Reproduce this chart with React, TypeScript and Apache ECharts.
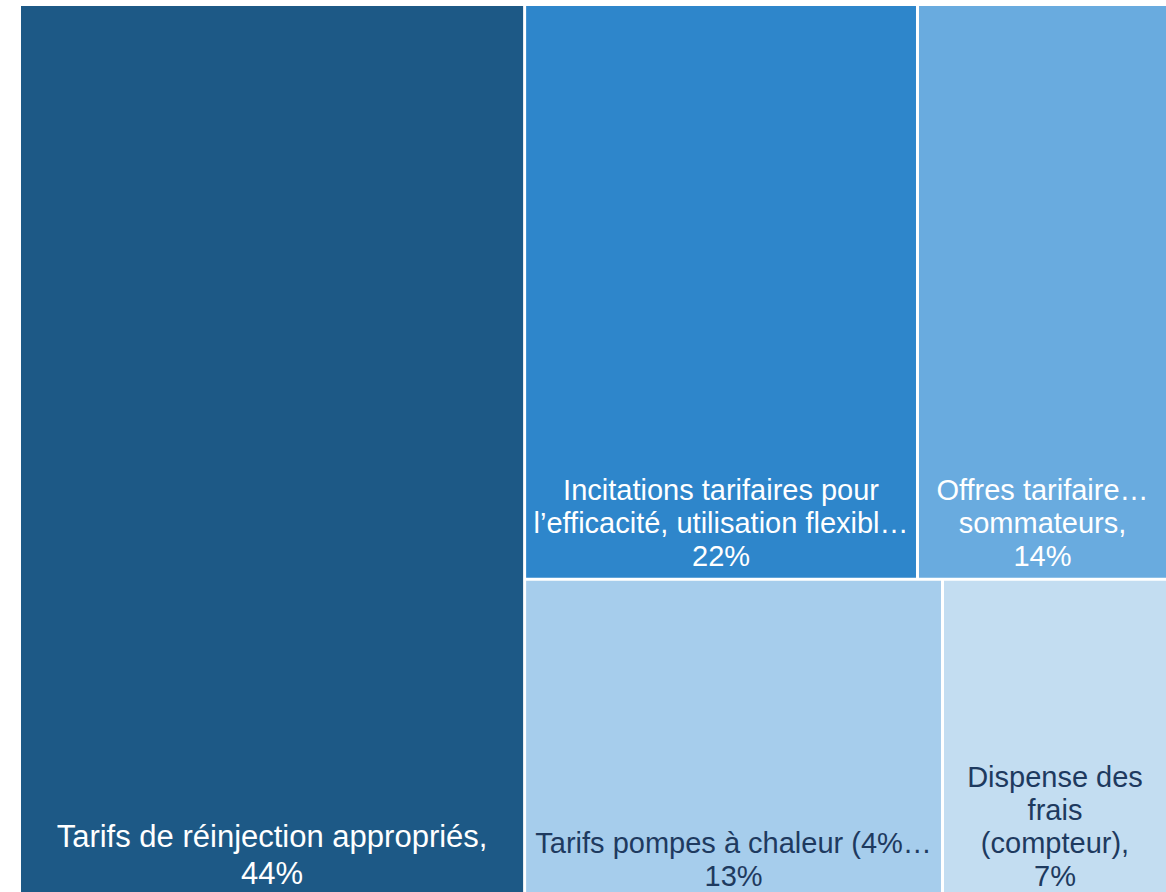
import React, { useEffect, useRef } from "react";
import * as echarts from "echarts";

const categories = [
  "Tarifs de réinjection appropriés,",
  "Incitations tarifaires pour\nl’efficacité, utilisation flexibl…",
  "Offres tarifaire…\nsommateurs,",
  "Tarifs pompes à chaleur (4%…",
  "Dispense des\nfrais\n(compteur),",
];
const values = [44, 22, 14, 13, 7];
const colors = ["#1D5986", "#2E86CB", "#69ABDF", "#A6CDEC", "#C3DDF1"];
const textColors = ["#FFFFFF", "#FFFFFF", "#FFFFFF", "#1E3A5F", "#1E3A5F"];
const fontSizes = [31, 29, 29, 29, 29];
const lineHeights = [37, 33, 33, 33, 33];

export default function App() {
  const ref = useRef<HTMLDivElement>(null);
  useEffect(() => {
    document.body.style.margin = "0";
    const chart = echarts.init(ref.current!, null, { renderer: "svg" });
    const data = categories.map((name, i) => ({
      name,
      value: values[i],
      itemStyle: { color: colors[i] },
      label: { color: textColors[i], fontSize: fontSizes[i], lineHeight: lineHeights[i] },
    }));
    chart.setOption({
      animation: false,
      series: [
        {
          type: "treemap",
          left: 21,
          top: 6,
          width: 1145,
          height: 891,
          squareRatio: 1.16,
          roam: false,
          nodeClick: false,
          breadcrumb: { show: false },
          data,
          levels: [
            {
              itemStyle: { gapWidth: 3, borderWidth: 0, borderColor: "#ffffff" },
            },
          ],
          itemStyle: { borderWidth: 0, gapWidth: 3 },
          label: {
            show: true,
            position: "insideBottom",
            distance: 0,
            fontFamily: "'Liberation Sans', Arial, sans-serif",
            fontSize: 29,
            lineHeight: 33,
            align: "center",
            overflow: "none",
            formatter: (p: any) => `${p.name}\n${p.value}%`,
          },
          upperLabel: { show: false },
        },
      ],
    });
    return () => chart.dispose();
  }, []);
  return <div ref={ref} style={{ width: 1166, height: 892 }} />;
}
